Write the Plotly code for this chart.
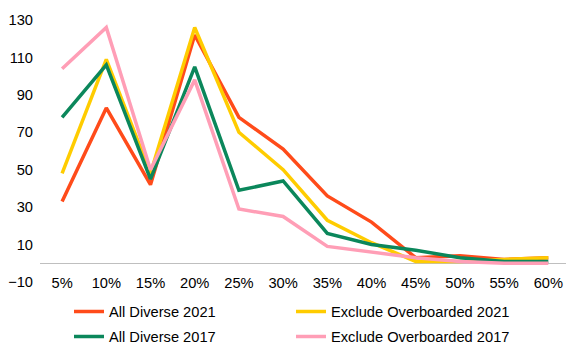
import plotly.graph_objects as go

categories = ["5%", "10%", "15%", "20%", "25%", "30%", "35%", "40%", "45%", "50%", "55%", "60%"]

all_diverse_2021 = [33, 83, 42, 122, 78, 61, 36, 22, 3, 4, 2, 3]
exclude_overboarded_2021 = [48, 109, 48, 126, 70, 50, 23, 11, 1, 1, 2, 3]
all_diverse_2017 = [78, 106, 45, 105, 39, 44, 16, 10, 7, 3, 1, 1]
exclude_overboarded_2017 = [104, 126, 50, 98, 29, 25, 9, 6, 3, 1, 0, 0]

y_ticks = [-10, 10, 30, 50, 70, 90, 110, 130]

# name, values, colour, legend slot
series = [
    ("All Diverse 2021", all_diverse_2021, "#FF4B1A", "legend"),
    ("Exclude Overboarded 2021", exclude_overboarded_2021, "#FFCC00", "legend2"),
    ("All Diverse 2017", all_diverse_2017, "#0B875B", "legend3"),
    ("Exclude Overboarded 2017", exclude_overboarded_2017, "#FF9EB6", "legend4"),
]

font_family = "Liberation Sans, Arial, sans-serif"
font_size = 14.67

fig = go.Figure()
for name, values, color, leg in series:
    fig.add_trace(go.Scatter(
        x=categories, y=values, name=name, mode="lines",
        line=dict(color=color, width=3.5), legend=leg,
    ))

legend_style = dict(
    orientation="h", xref="container", yref="container",
    xanchor="left", yanchor="middle",
    font=dict(family=font_family, size=font_size, color="#000000"),
    bgcolor="rgba(0,0,0,0)",
)
col_x = [69 / 566, 291 / 566]
row_y = [1 - 312 / 345, 1 - 337 / 345]

fig.update_layout(
    width=566, height=345,
    margin=dict(l=40, r=0, t=20, b=63, autoexpand=False),
    paper_bgcolor="white", plot_bgcolor="white",
    font=dict(family=font_family, size=font_size, color="#000000"),
    showlegend=True,
    legend=dict(legend_style, x=col_x[0], y=row_y[0]),
    legend2=dict(legend_style, x=col_x[1], y=row_y[0]),
    legend3=dict(legend_style, x=col_x[0], y=row_y[1]),
    legend4=dict(legend_style, x=col_x[1], y=row_y[1]),
)

fig.update_xaxes(
    type="category", range=[-0.5, 11.4],
    showgrid=False, showline=False, zeroline=False,
    ticks="", ticklabelstandoff=-10,
    tickfont=dict(family=font_family, size=font_size, color="#000000"),
)

fig.update_yaxes(
    range=[-10, 130], tickvals=y_ticks,
    showgrid=False, showline=False,
    zeroline=True, zerolinecolor="#BFBFBF", zerolinewidth=1,
    ticks="", ticklabelstandoff=6,
    tickfont=dict(family=font_family, size=font_size, color="#000000"),
)

fig.write_html("out.html")
